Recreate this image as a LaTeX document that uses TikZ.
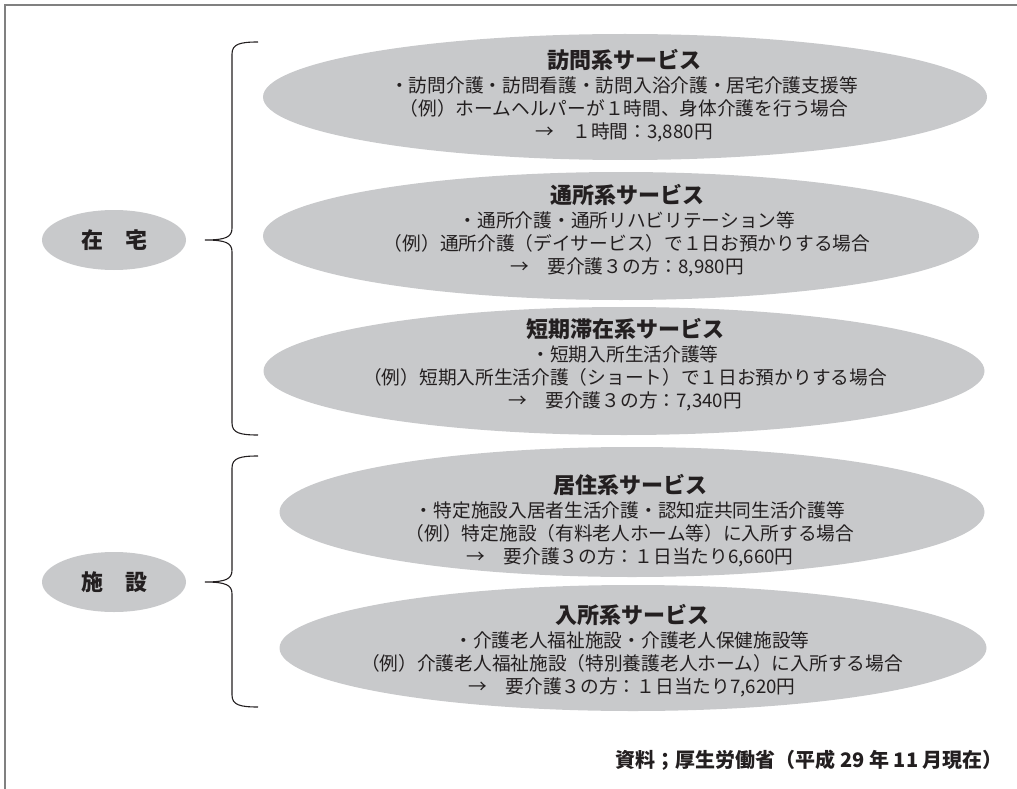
\documentclass[tikz,border=0pt]{standalone}
\usepackage{fontspec}
\setmainfont{Noto Sans CJK JP}
\usetikzlibrary{shapes.geometric}
\definecolor{ellgray}{HTML}{C8C9CB}
\definecolor{ink}{HTML}{231F20}
\definecolor{framegray}{HTML}{808080}
\tikzset{
  svc/.style={ellipse, fill=ellgray, draw=none, inner sep=0pt},
  lbl/.style={ellipse, fill=ellgray, draw=none, inner sep=0pt,
    minimum width=144pt, minimum height=60pt, text=ink,
    font=\bfseries\fontsize{22}{24}\selectfont},
  txt/.style={align=center, text=ink, inner sep=0pt,
    font=\fontsize{18.7}{23}\selectfont},
  bracestyle/.style={draw=ink, line width=1.1pt},
}
\newcommand{\ttl}[1]{{\bfseries\fontsize{22}{26}\selectfont #1}}
\begin{document}
\begin{tikzpicture}[x=1pt,y=-1pt]
\useasboundingbox (0,0) rectangle (1017,789);
\draw[framegray, line width=1.5pt] (5,789) -- (5,5) -- (1017,5);

% service ellipses
\node[svc, minimum width=724pt, minimum height=126pt] (e1) at (625,97) {};
\node[svc, minimum width=716pt, minimum height=128pt] (e2) at (621,236) {};
\node[svc, minimum width=721pt, minimum height=128pt] (e3) at (624,371) {};
\node[svc, minimum width=705pt, minimum height=130pt] (e4) at (632,512) {};
\node[svc, minimum width=707pt, minimum height=126pt] (e5) at (633,648) {};

\node[txt] (t1) at (624,96) {\ttl{訪問系サービス}\\[1pt]
・訪問介護・訪問看護・訪問入浴介護・居宅介護支援等\\
（例）ホームヘルパーが１時間、身体介護を行う場合\\
→　１時間：3,880円};
\node[txt] (t2) at (627,231) {\ttl{通所系サービス}\\[1pt]
・通所介護・通所リハビリテーション等\\
（例）通所介護（デイサービス）で１日お預かりする場合\\
→　要介護３の方：8,980円};
\node[txt] (t3) at (625,365) {\ttl{短期滞在系サービス}\\[1pt]
・短期入所生活介護等\\
（例）短期入所生活介護（ショート）で１日お預かりする場合\\
→　要介護３の方：7,340円};
\node[txt] (t4) at (630,521) {\ttl{居住系サービス}\\[1pt]
・特定施設入居者生活介護・認知症共同生活介護等\\
（例）特定施設（有料老人ホーム等）に入所する場合\\
→　要介護３の方：１日当たり6,660円};
\node[txt] (t5) at (632,651) {\ttl{入所系サービス}\\[1pt]
・介護老人福祉施設・介護老人保健施設等\\
（例）介護老人福祉施設（特別養護老人ホーム）に入所する場合\\
→　要介護３の方：１日当たり7,620円};

% category labels
\node[lbl] (zaitaku) at (114,240) {在　宅};
\node[lbl] (shisetsu) at (114,582) {施　設};

% brace anchor points
\coordinate (b1top) at (258,42);
\coordinate (b1tip) at (205,240);
\coordinate (b1bot) at (258,435);
\coordinate (b2top) at (258,456);
\coordinate (b2tip) at (205,582);
\coordinate (b2bot) at (258,707);

\draw[bracestyle] (b1top) .. controls (240,42) and (232,44) .. (232,54)
  -- (232,228) .. controls (232,237) and (226,240) .. (b1tip)
  .. controls (226,240) and (232,243) .. (232,252)
  -- (232,423) .. controls (232,433) and (240,435) .. (b1bot);
\draw[bracestyle] (b2top) .. controls (240,456) and (232,458) .. (232,468)
  -- (232,570) .. controls (232,579) and (226,582) .. (b2tip)
  .. controls (226,582) and (232,585) .. (232,594)
  -- (232,695) .. controls (232,705) and (240,707) .. (b2bot);

% source
\node[anchor=east, text=ink, inner sep=0pt,
  font=\bfseries\fontsize{20}{22}\selectfont] (src) at (1003,760)
  {資料；厚生労働省（平成 29 年 11 月現在）};
\end{tikzpicture}
\end{document}
